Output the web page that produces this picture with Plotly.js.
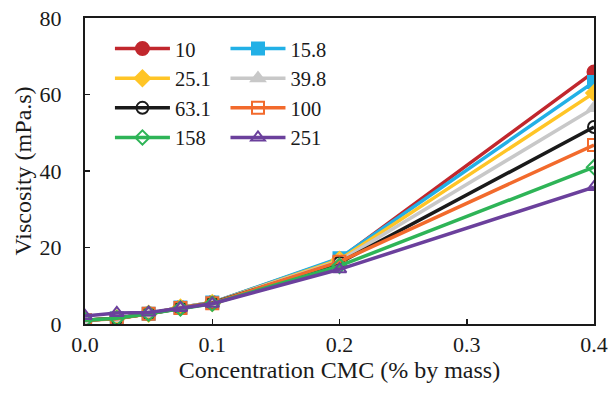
<!DOCTYPE html>
<html>
<head>
<meta charset="utf-8">
<script src="https://cdn.plot.ly/plotly-3.0.1.min.js"></script>
<style>html,body{margin:0;padding:0;background:#fff;}#chart{width:611px;height:394px;}</style>
</head>
<body>
<div id="chart"></div>
<script>
const concentration = [0, 0.025, 0.05, 0.075, 0.1, 0.2, 0.4];
const seriesNames = ["10", "15.8", "25.1", "39.8", "63.1", "100", "158", "251"];
const v10   = [1.0, 1.5, 2.7, 4.3, 5.6, 17.0, 65.9];
const v15_8 = [1.0, 1.5, 2.7, 4.3, 5.6, 17.2, 63.3];
const v25_1 = [1.0, 1.5, 2.7, 4.3, 5.5, 16.8, 60.4];
const v39_8 = [1.0, 1.5, 2.7, 4.2, 5.5, 16.5, 56.5];
const v63_1 = [1.0, 1.5, 2.7, 4.2, 5.5, 16.0, 51.5];
const v100  = [1.0, 1.4, 2.7, 4.2, 5.4, 16.3, 46.8];
const v158  = [1.0, 1.5, 2.7, 4.1, 5.3, 15.2, 41.0];
const v251  = [2.1, 2.9, 3.0, 4.2, 5.3, 14.3, 35.8];
const allValues = [v10, v15_8, v25_1, v39_8, v63_1, v100, v158, v251];

const colors = ["#C1272D", "#22B0E6", "#FFC526", "#C8C8C8", "#1A1A1A", "#F26A2C", "#2EB457", "#6B409C"];
const symbols = ["circle", "square", "diamond", "triangle-up", "circle-open", "square-open", "diamond-open", "triangle-up-open"];
const sizes = [13, 12, 12, 12, 12, 12, 11, 12];

const traces = seriesNames.map((name, i) => ({
  x: concentration,
  y: allValues[i],
  name: name,
  type: "scatter",
  mode: "lines+markers",
  line: {color: colors[i], width: 3.5},
  marker: {color: colors[i], symbol: symbols[i], size: sizes[i], line: {color: colors[i], width: 2}},
  legend: i % 2 === 0 ? "legend" : "legend2"
}));

const font = "Liberation Serif, Times New Roman, serif";
const legendCommon = {
  font: {family: font, size: 20.5, color: "#1a1a1a"},
  bgcolor: "rgba(0,0,0,0)",
  yanchor: "top",
  y: 0.965,
  xanchor: "left",
  itemwidth: 55,
  traceorder: "normal"
};

const layout = {
  width: 611, height: 394,
  margin: {l: 85, r: 17, t: 18, b: 70},
  paper_bgcolor: "#ffffff",
  plot_bgcolor: "#ffffff",
  font: {family: font, color: "#1a1a1a"},
  showlegend: true,
  legend: Object.assign({}, legendCommon, {x: 0.049}),
  legend2: Object.assign({}, legendCommon, {x: 0.276}),
  xaxis: {
    range: [0, 0.4],
    tickvals: [0, 0.1, 0.2, 0.3, 0.4],
    tickformat: ".1f",
    ticks: "inside", ticklen: 5, tickwidth: 1.5, tickcolor: "#1a1a1a",
    showline: true, linecolor: "#1a1a1a", linewidth: 2, mirror: true,
    showgrid: false, zeroline: false,
    tickfont: {family: font, size: 22, color: "#1a1a1a"},
    title: {text: "Concentration CMC (% by mass)", font: {family: font, size: 24, color: "#1a1a1a"}, standoff: 0},
    ticklabelstandoff: 0
  },
  yaxis: {
    range: [0, 80],
    tickvals: [0, 20, 40, 60, 80],
    ticks: "inside", ticklen: 5, tickwidth: 1.5, tickcolor: "#1a1a1a",
    showline: true, linecolor: "#1a1a1a", linewidth: 2, mirror: true,
    showgrid: false, zeroline: false,
    tickfont: {family: font, size: 22, color: "#1a1a1a"},
    title: {text: "Viscosity (mPa.s)", font: {family: font, size: 24, color: "#1a1a1a"}, standoff: 1},
    ticklabelstandoff: 17
  }
};

Plotly.newPlot("chart", traces, layout, {displayModeBar: false, staticPlot: true});
</script>
</body>
</html>
